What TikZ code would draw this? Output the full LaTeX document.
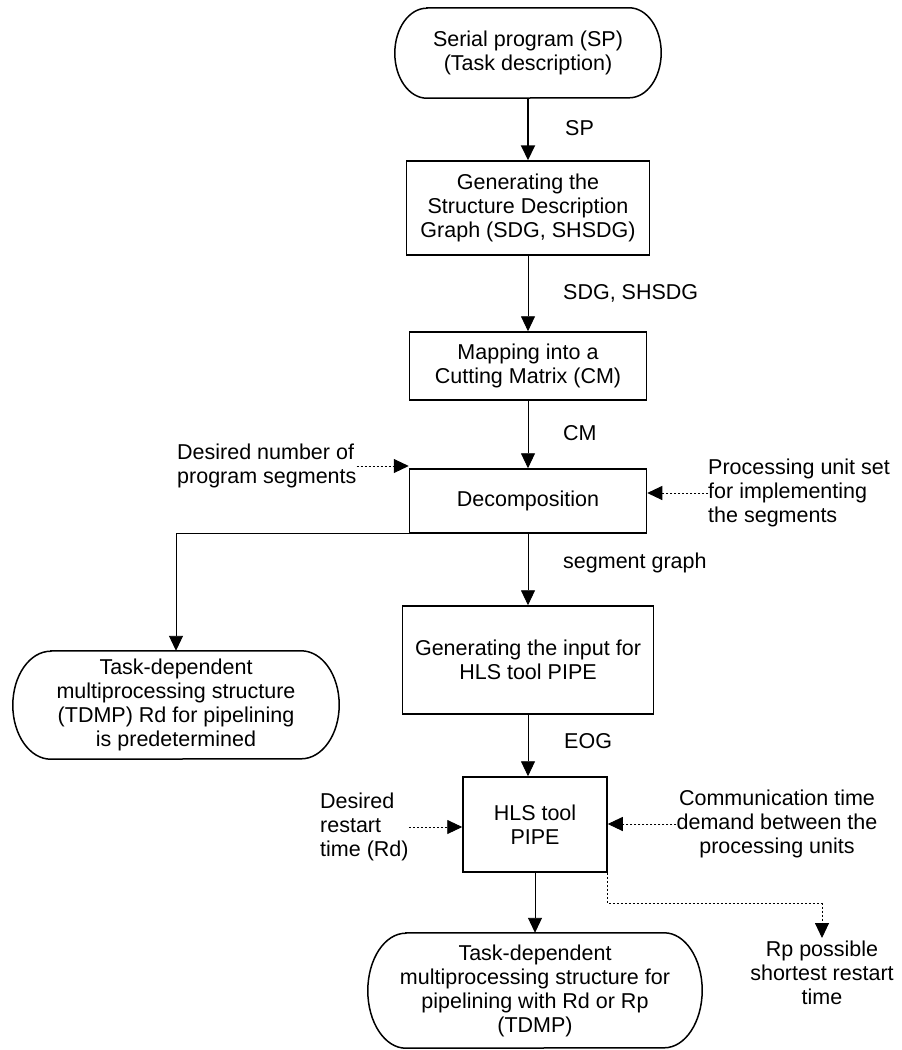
\documentclass[tikz,border=0pt]{standalone}
\usepackage{fontspec}
\setmainfont{Liberation Sans}
\usetikzlibrary{arrows.meta,calc}
\newcommand\termshape[3]{%
  \draw[line width=1.5pt] ($(#1.north west)+(#2,0)$) -- ($(#1.north east)+(-#2,0)$)
    arc[start angle=90,end angle=-90,x radius=#2,y radius=#3]
    -- ($(#1.south west)+(#2,0)$)
    arc[start angle=270,end angle=90,x radius=#2,y radius=#3] -- cycle;}
\begin{document}
\begin{tikzpicture}[x=1pt,y=1pt,
  font=\fontsize{21.5}{24}\selectfont,
  box/.style={draw, line width=1.5pt, inner sep=0pt, align=center},
  term/.style={inner sep=0pt, align=center},
  arr/.style={line width=0.9pt, -{Triangle[length=15pt,width=14pt]}},
  dot/.style={line width=0.9pt, dash pattern=on 2pt off 2pt, -{Triangle[length=15pt,width=14pt]}},
  lab/.style={inner sep=0pt, anchor=west, align=left},
  ctext/.style={inner sep=0pt, align=center}]
\useasboundingbox (0,0) rectangle (902,-1050);

% terminators
\node[term, minimum width=266pt, minimum height=90pt] (sp) at (528,-53)
  {Serial program (SP)\\(Task description)};
\termshape{sp}{32}{45}
\node[term, minimum width=326pt, minimum height=108pt] (tdl) at (176,-705)
  {Task-dependent\\multiprocessing structure\\(TDMP) Rd for pipelining\\is predetermined};
\termshape{tdl}{38}{54}
\node[term, minimum width=334pt, minimum height=115pt] (tdb) at (535,-990.5)
  {Task-dependent\\multiprocessing structure for\\pipelining with Rd or Rp\\(TDMP)};
\termshape{tdb}{38}{57.5}

% boxes
\node[box, minimum width=243pt, minimum height=94pt] (sdg) at (528,-208)
  {Generating the\\Structure Description\\Graph (SDG, SHSDG)};
\node[box, minimum width=237pt, minimum height=68pt] (map) at (528,-366)
  {Mapping into a\\Cutting Matrix (CM)};
\node[box, minimum width=237pt, minimum height=64pt] (dec) at (528,-501)
  {Decomposition};
\node[box, minimum width=251pt, minimum height=108pt] (gin) at (528,-660)
  {Generating the input for\\HLS tool PIPE};
\node[box, minimum width=144pt, minimum height=95pt] (hls) at (535,-824.5)
  {HLS tool\\PIPE};

% side texts
\node[lab] (dn) at (177,-466) {Desired number of\\program segments};
\node[lab] (pu) at (708,-493) {Processing unit set\\for implementing\\the segments};
\node[lab] (dr) at (320,-827) {Desired\\restart\\time (Rd)};
\node[ctext] (ct) at (777,-824) {Communication time\\demand between the\\processing units};
\node[ctext, anchor=north, inner ysep=3pt] (rp) at (822,-938) {Rp possible\\shortest restart\\time};

% edge labels
\node[lab] (lsp) at (565,-128) {SP};
\node[lab] (lsdg) at (563,-293) {SDG, SHSDG};
\node[lab] (lcm) at (563,-433) {CM};
\node[lab] (lsg) at (563,-563) {segment graph};
\node[lab] (leog) at (564,-741) {EOG};

% connectors
\draw[arr, line width=2pt] (sp) -- (sdg);
\draw[arr] (sdg) -- (map);
\draw[arr] (map) -- (dec);
\draw[arr] (dec) -- (gin);
\draw[arr] (gin.south) -- (gin.south |- hls.north);
\draw[arr] (hls) -- (tdb);
\draw[arr] (dec.south west) -| (tdl.north);

\draw[dot] (dn.east) -- (dn.east -| dec.west);
\draw[dot] (pu.west) -- (pu.west -| dec.east);
\draw[dot] (dr.east) -- (dr.east -| hls.west);
\draw[dot] (ct.west) -- (ct.west -| hls.east);
\draw[dot] (hls.south east) -- ++(0,-31) -| (rp.north);
\end{tikzpicture}
\end{document}
